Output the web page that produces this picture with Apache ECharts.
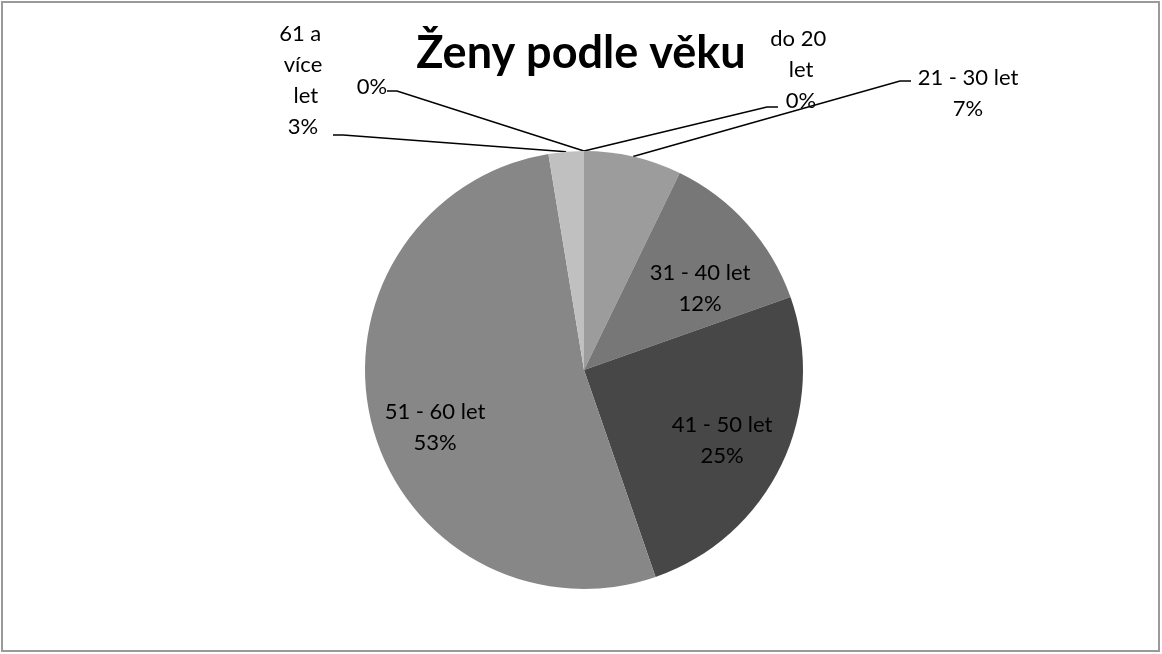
<!DOCTYPE html>
<html>
<head>
    <meta charset="utf-8">
    <title>Ženy podle věku</title>
    <script src="https://cdn.jsdelivr.net/npm/echarts@6/dist/echarts.min.js"></script>
    <style>
        body {
            margin: 0;
            background: #fff;
        }

        #chart {
            width: 1162px;
            height: 654px;
        }
    </style>
</head>
<body>
<div id="chart"></div>
<script>
    // data (shares in %, clockwise from 12 o'clock)
    var categories = ['do 20 let', '21 - 30 let', '31 - 40 let', '41 - 50 let', '51 - 60 let', '61 a více let', ''];
    var values = [0, 7.2, 12.4, 25.1, 52.7, 2.6, 0];
    var colors = ['#9c9c9c', '#9c9c9c', '#777777', '#474747', '#878787', '#c0c0c0', '#c0c0c0'];

    // where each label sits (Excel placed them by hand)
    var labelPos = [
        {x: 801, y: 70, wrap: 70, outside: true},
        {x: 968, y: 93, wrap: 160, outside: true},
        {x: 700, y: 288},
        {x: 722, y: 440},
        {x: 435, y: 427},
        {x: 303, y: 80, wrap: 56, outside: true},
        {x: 372, y: 87, wrap: 60, outside: true}
    ];
    // bend + end of the leader lines
    var leaderEnds = [
        [[767, 107], [778, 107]],
        [[900, 81], [911, 81]],
        null,
        null,
        null,
        [[343, 135], [333, 135]],
        [[397, 91], [387, 91]]
    ];

    var chart = echarts.init(document.getElementById('chart'));

    var pieData = categories.map(function (name, i) {
        var p = labelPos[i];
        return {
            name: name,
            value: values[i],
            itemStyle: {color: colors[i]},
            label: {
                position: p.outside ? 'outside' : 'inside',
                width: p.wrap || 200,
                overflow: 'break'
            },
            labelLine: {show: !!p.outside}
        };
    });

    chart.setOption({
        animation: false,
        backgroundColor: '#fff',
        title: {
            text: 'Ženy podle věku',
            left: 'center',
            top: 26,
            textStyle: {
                fontFamily: 'Lato',
                fontWeight: 'bold',
                fontSize: 45,
                color: '#000'
            }
        },
        graphic: [{
            type: 'rect',
            shape: {x: 2, y: 2, width: 1157, height: 649},
            style: {fill: 'none', stroke: '#9a9a9a', lineWidth: 2},
            silent: true
        }],
        series: [{
            type: 'pie',
            center: [584, 370],
            radius: 219,
            startAngle: 90,
            clockwise: true,
            avoidLabelOverlap: false,
            stillShowZeroSum: true,
            minShowLabelAngle: 0,
            data: pieData,
            label: {
                show: true,
                color: '#000',
                fontFamily: 'Lato',
                fontSize: 22,
                lineHeight: 31,
                align: 'center',
                formatter: function (p) {
                    var pct = Math.round(p.percent) + '%';
                    return p.name ? p.name + '\n' + pct : pct;
                }
            },
            labelLine: {
                lineStyle: {color: '#000', width: 1.5},
                length: 10,
                length2: 10
            },
            labelLayout: function (params) {
                var i = params.dataIndex;
                var p = labelPos[i];
                var out = {x: p.x, y: p.y, align: 'center', verticalAlign: 'middle'};
                if (leaderEnds[i] && params.labelLinePoints) {
                    out.labelLinePoints = [params.labelLinePoints[0], leaderEnds[i][0], leaderEnds[i][1]];
                }
                return out;
            }
        }]
    });
</script>
</body>
</html>
